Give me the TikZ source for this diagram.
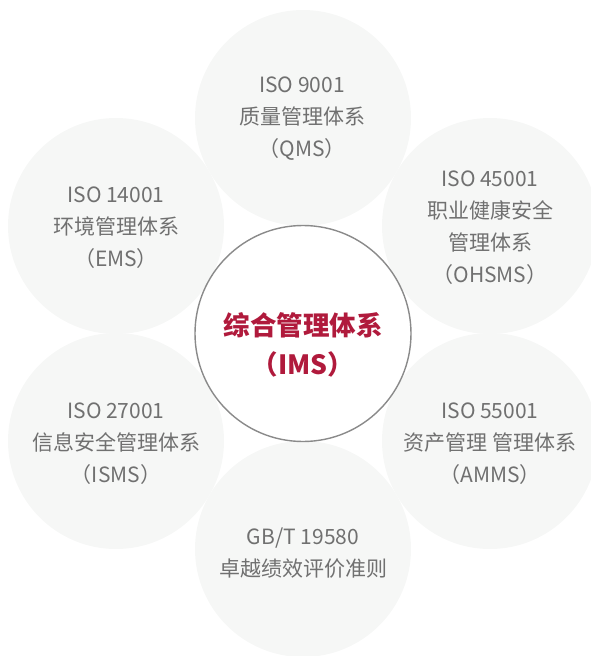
\documentclass[tikz,border=0pt]{standalone}
\usepackage{fontspec}
\setmainfont{Noto Sans CJK SC}
\definecolor{bubble}{HTML}{F6F7F6}
\definecolor{txtgray}{HTML}{707070}
\definecolor{ringgray}{HTML}{8A8A8A}
\definecolor{imsred}{HTML}{B01A3C}
\tikzset{
  bubble/.style={circle, fill=bubble, minimum size=216pt, inner sep=0pt},
  lbl/.style={align=center, text=txtgray, font=\fontsize{21}{32}\selectfont, inner sep=0pt},
  hub/.style={circle, fill=white, draw=ringgray, line width=1.4pt, minimum size=216pt, inner sep=0pt},
  hublbl/.style={align=center, text=imsred, font=\fontsize{26.5}{39}\selectfont\bfseries, inner sep=0pt}
}
\begin{document}
\begin{tikzpicture}[x=1pt,y=-1pt]
\useasboundingbox (0,0) rectangle (591,656);
\clip (0,0) rectangle (591,656);
\node[bubble] (qms) at (303,118) {};
\node[bubble] (ems) at (116,226) {};
\node[bubble] (ohs) at (490,226) {};
\node[bubble] (isms) at (116,441) {};
\node[bubble] (amms) at (490,441) {};
\node[bubble] (gbt) at (303,549) {};
\node[hub] (ims) at (303,333.5) {};
\node[lbl] (tq) at (302,118.5) {ISO 9001\\质量管理体系\\（QMS）};
\node[lbl] (te) at (116,228) {ISO 14001\\环境管理体系\\（EMS）};
\node[lbl] (to) at (490,228) {ISO 45001\\职业健康安全\\管理体系\\（OHSMS）};
\node[lbl] (ti) at (116,443.5) {ISO 27001\\信息安全管理体系\\（ISMS）};
\node[lbl] (ta) at (490,443.5) {ISO 55001\\资产管理 管理体系\\（AMMS）};
\node[lbl] (tg) at (303,553) {GB/T 19580\\卓越绩效评价准则};
\node[hublbl] (th) at (303,344.5) {综合管理体系\\（IMS）};
\end{tikzpicture}
\end{document}
